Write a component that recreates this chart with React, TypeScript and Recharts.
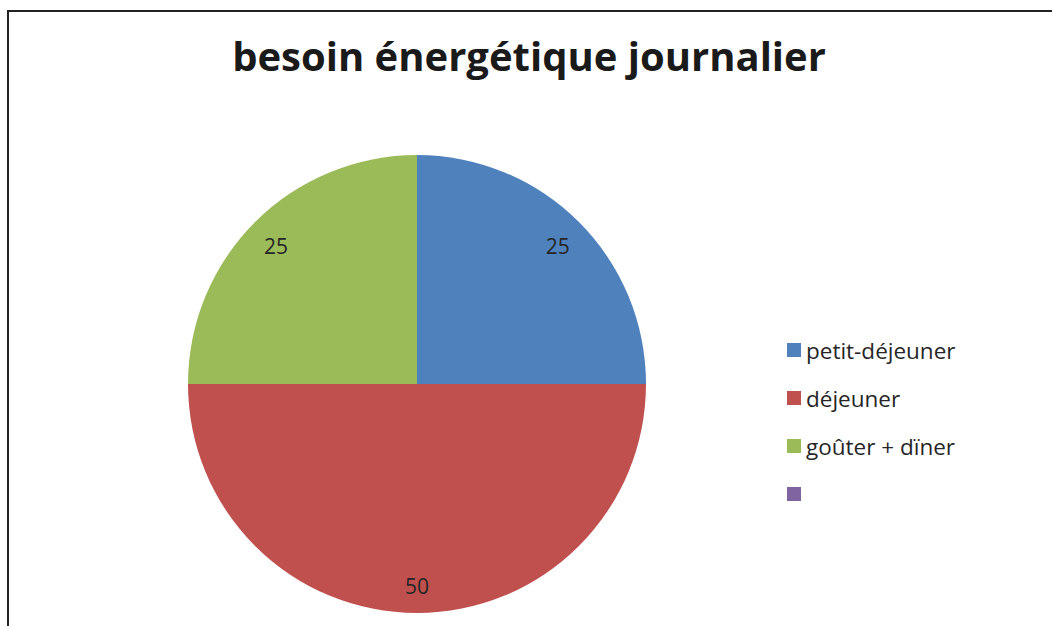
import React from 'react';
import { PieChart, Pie, Cell, Legend } from 'recharts';

const categories = ['petit-déjeuner', 'déjeuner', 'goûter + dïner', ''];
const values = [25, 50, 25, 0];
const colors = ['#4F81BD', '#C0504D', '#9BBB59', '#8064A2'];

const data = categories.map((name, i) => ({ name, value: values[i], color: colors[i] }));

const FONT = '"Open Sans", Lato, sans-serif';
const RADIAN = Math.PI / 180;

const renderLabel = (props: any) => {
  const { cx, cy, midAngle, outerRadius, value } = props;
  if (!value) return null;
  const r = outerRadius * 0.87;
  const x = cx + r * Math.cos(-midAngle * RADIAN);
  const y = cy + r * Math.sin(-midAngle * RADIAN) + 3;
  return (
    <text x={x} y={y} fill="#262626" fontSize={21} fontFamily={FONT} textAnchor="middle" dominantBaseline="central">
      {value}
    </text>
  );
};

const renderLegend = () => (
  <div style={{ fontFamily: FONT, fontSize: 22.5, color: '#262626' }}>
    {data.map((d, i) => (
      <div key={i} style={{ display: 'flex', alignItems: 'center', height: 48 }}>
        <span style={{ width: 14, height: 14, background: d.color, marginRight: 5, display: 'inline-block' }} />
        <span>{d.name}</span>
      </div>
    ))}
  </div>
);

export default function App() {
  return (
    <div style={{ position: 'relative', width: 1052, height: 626, overflow: 'hidden', background: '#fff' }}>
      <style>{'body{margin:0}'}</style>
      <div
        style={{
          position: 'absolute',
          left: 7,
          top: 10,
          width: 1100,
          height: 700,
          border: '2.5px solid #222',
          boxSizing: 'border-box',
        }}
      />
      <div
        style={{
          position: 'absolute',
          left: 0,
          width: 1058,
          top: 28,
          textAlign: 'center',
          fontFamily: FONT,
          fontWeight: 'bold',
          fontSize: 40,
          color: '#1a1a1a',
          whiteSpace: 'nowrap',
        }}
      >
        besoin énergétique journalier
      </div>
      <div style={{ position: 'absolute', left: 0, top: 0 }}>
        <PieChart width={1052} height={626} margin={{ top: 0, right: 0, bottom: 0, left: 0 }}>
          <Pie
            data={data}
            dataKey="value"
            nameKey="name"
            cx={417}
            cy={384}
            outerRadius={229}
            startAngle={90}
            endAngle={-270}
            stroke="none"
            label={renderLabel}
            labelLine={false}
            isAnimationActive={false}
          >
            {data.map((d, i) => (
              <Cell key={`cell-${i}`} fill={d.color} />
            ))}
          </Pie>
          <Legend
            content={renderLegend}
            layout="vertical"
            wrapperStyle={{ position: 'absolute', left: 787, top: 326, width: 240 }}
          />
        </PieChart>
      </div>
    </div>
  );
}
